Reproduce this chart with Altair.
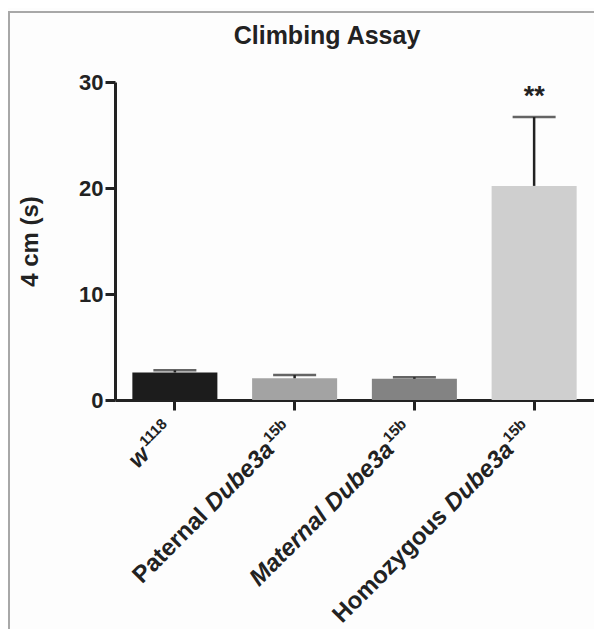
import altair as alt
import pandas as pd

# ---- data ----
categories = ["w1118", "Paternal Dube3a15b", "Maternal Dube3a15b", "Homozygous Dube3a15b"]
means = [2.6, 2.05, 2.0, 20.2]
uppers = [2.8, 2.35, 2.15, 26.7]
bar_colors = ["#1c1c1c", "#a3a3a3", "#838383", "#cfcfcf"]
annotations = ["", "", "", "**"]

label_prefix = ["", "Paternal", "Maternal", "Homozygous"]
label_prefix_italic = [False, False, True, False]
label_main = ["w", "Dube3a", "Dube3a", "Dube3a"]
label_sup = ["1118", "15b", "15b", "15b"]

FONT = "Liberation Sans"
INK = "#222222"

df = pd.DataFrame({
    "cat": categories,
    "mean": means,
    "upper": uppers,
    "note": annotations,
})

lab = pd.DataFrame({
    "cat": categories,
    "prefix": label_prefix,
    "pit": label_prefix_italic,
    "main": label_main,
    "sup": label_sup,
})

W, H = 479, 318

xscale = alt.Scale(domain=categories, paddingInner=0.29, paddingOuter=0.145)
x_enc = alt.X("cat:N", sort=categories, scale=xscale,
              axis=alt.Axis(labels=False, title=None, domainWidth=3, tickWidth=3,
                            tickSize=10, domainColor=INK, tickColor=INK))
yscale = alt.Scale(domain=[0, 30], nice=False)

bars = alt.Chart(df).mark_bar().encode(
    x=x_enc,
    y=alt.Y("mean:Q", scale=yscale,
            axis=alt.Axis(values=[0, 10, 20, 30], grid=False, title="4 cm (s)",
                          domainWidth=3, tickWidth=3, tickSize=10, domainColor=INK,
                          tickColor=INK, labelFont=FONT, labelFontSize=22,
                          labelFontWeight="bold", labelColor=INK, labelPadding=2,
                          titleFont=FONT, titleFontSize=24, titleFontWeight="bold",
                          titleColor=INK, titleX=-85, titleY=159, titleAngle=270,
                          titleAlign="center", titleBaseline="middle")),
    color=alt.Color("cat:N", scale=alt.Scale(domain=categories, range=bar_colors), legend=None),
)

whisk = alt.Chart(df).mark_rule(color=INK, strokeWidth=2.5).encode(
    x=alt.X("cat:N", sort=categories, scale=xscale),
    y=alt.Y("mean:Q", scale=yscale),
    y2="upper:Q",
)
caps = alt.Chart(df).mark_tick(color=INK, thickness=2.5, size=43, orient="horizontal").encode(
    x=alt.X("cat:N", sort=categories, scale=xscale),
    y=alt.Y("upper:Q", scale=yscale),
)
stars = alt.Chart(df).mark_text(font=FONT, fontSize=27, fontWeight="bold", color=INK,
                                baseline="alphabetic", dy=-12).encode(
    x=alt.X("cat:N", sort=categories, scale=xscale),
    y=alt.Y("upper:Q", scale=yscale),
    text="note:N",
)

# x labels (rotated, with italic gene names and superscripts)
LY = H + 32
base_lab = alt.Chart(lab).encode(
    x=alt.X("cat:N", sort=categories, scale=xscale),
    y=alt.value(LY),
)
common = dict(font=FONT, fontWeight="bold", color=INK, angle=315, align="right",
              baseline="alphabetic")
sup_layer = base_lab.mark_text(fontSize=15, dy=-10, **common).encode(text="sup:N")
main_dube = base_lab.transform_filter(alt.datum.main == "Dube3a").mark_text(
    fontSize=24, fontStyle="italic", dx=-27, **common).encode(text="main:N")
main_w = base_lab.transform_filter(alt.datum.main == "w").mark_text(
    fontSize=24, fontStyle="italic", dx=-34, **common).encode(text="main:N")
pre_up = base_lab.transform_filter((alt.datum.prefix != "") & (alt.datum.pit == False)).mark_text(
    fontSize=24, dx=-121, **common).encode(text="prefix:N")
pre_it = base_lab.transform_filter(alt.datum.pit == True).mark_text(
    fontSize=24, fontStyle="italic", dx=-121, **common).encode(text="prefix:N")

# title drawn as text
one = pd.DataFrame({"t": ["Climbing Assay"]})
title = alt.Chart(one).mark_text(font=FONT, fontSize=25, fontWeight="bold", color=INK,
                                 baseline="alphabetic", align="center").encode(
    x=alt.value(212), y=alt.value(-38), text="t:N")

# figure frame (left and top edges)
frame_top = alt.Chart(one).mark_rule(color="#a8a8a8", strokeWidth=2).encode(
    x=alt.value(-107), x2=alt.value(W), y=alt.value(-70))
frame_left = alt.Chart(one).mark_rule(color="#a8a8a8", strokeWidth=2).encode(
    x=alt.value(-106), y=alt.value(-70), y2=alt.value(H + 229))

chart = alt.layer(
    frame_top, frame_left, bars, whisk, caps, stars,
    sup_layer, main_dube, main_w, pre_up, pre_it, title,
).properties(
    width=W, height=H,
    autosize=alt.AutoSizeParams(type="none"),
    padding={"left": 107, "top": 74, "right": 0, "bottom": 229},
    background="#fdfdfd",
).configure_view(stroke=None)

chart.save("out.html", embed_options={"renderer": "svg", "actions": False})
